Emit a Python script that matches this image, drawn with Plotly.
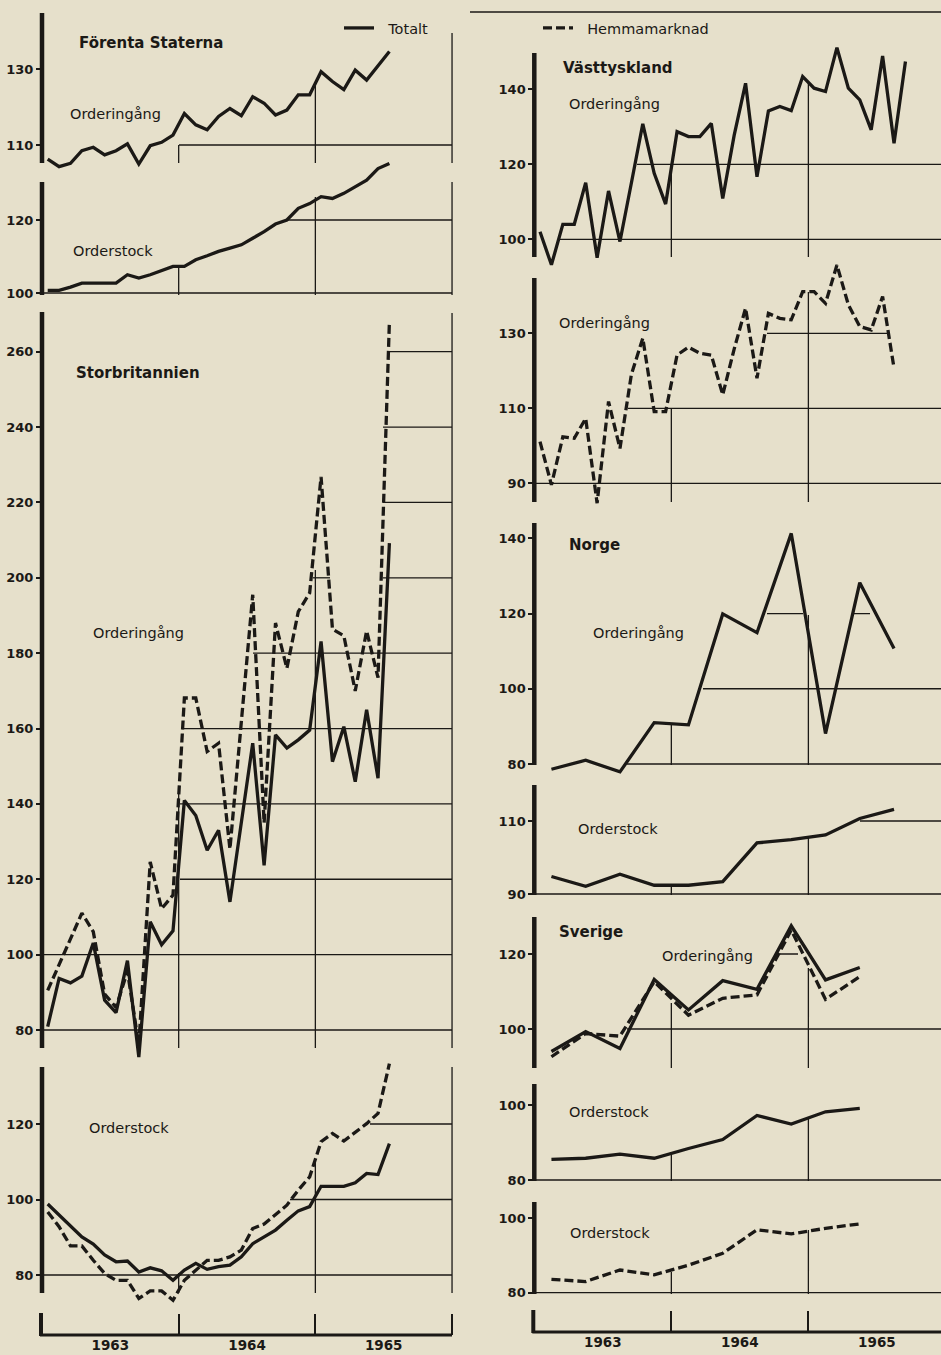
import numpy as np
import plotly.graph_objects as go

# ---------------- data ----------------
year_labels = ["1963", "1964", "1965"]

# Förenta Staterna, monthly Jan 1963 - Jul 1965
us_intake_total = [106.3, 104.3, 105.2, 108.5, 109.4, 107.4, 108.5, 110.3, 105.0, 109.8, 110.7, 112.6,
                   118.3, 115.3, 114.0, 117.5, 119.6, 117.7, 122.7, 121.0, 117.9, 119.2, 123.2, 123.2,
                   129.3, 126.7, 124.6, 129.7, 127.1, 131.0, 134.6]
us_stock_total = [100.7, 100.7, 101.6, 102.7, 102.7, 102.7, 102.7, 105.0, 104.1, 105.0, 106.2, 107.3,
                  107.3, 109.1, 110.2, 111.4, 112.3, 113.2, 115.0, 116.8, 118.9, 120.0, 123.2, 124.5,
                  126.4, 125.9, 127.3, 129.1, 130.9, 134.1, 135.5]

# Storbritannien, monthly Jan 1963 - Jul 1965
uk_intake_total = [80.9, 93.7, 92.5, 94.3, 103.1, 87.9, 84.6, 98.4, 72.8, 108.7, 102.6, 106.3,
                   140.9, 136.9, 127.7, 133.0, 114.0, 135.0, 156.1, 123.7, 158.3, 154.8, 157.0, 159.6,
                   183.1, 151.2, 160.5, 145.9, 165.0, 146.8, 209.2]
uk_intake_home = [90.5, 97.3, 104.2, 111.0, 106.1, 89.5, 86.0, 95.6, 76.0, 124.6, 112.2, 115.8,
                  168.1, 168.1, 153.9, 156.1, 128.0, 162.0, 195.5, 135.0, 188.0, 176.0, 191.0, 196.0,
                  226.8, 186.4, 184.6, 170.0, 185.9, 173.5, 268.0]
uk_stock_total = [98.8, 95.9, 92.8, 90.1, 88.2, 85.3, 83.5, 83.7, 80.8, 81.9, 81.1, 78.6,
                  81.3, 83.1, 81.5, 82.2, 82.6, 84.8, 88.3, 90.1, 91.9, 94.5, 97.0, 98.1,
                  103.5, 103.5, 103.5, 104.4, 106.9, 106.6, 114.8]
uk_stock_home = [96.7, 92.8, 87.7, 87.7, 83.9, 80.4, 78.6, 78.6, 73.8, 75.8, 75.8, 73.3,
                 78.6, 81.3, 83.9, 83.9, 84.8, 86.6, 92.3, 93.5, 95.9, 98.5, 102.5, 106.0,
                 115.3, 117.5, 115.5, 117.9, 120.1, 122.8, 136.0]

# Västtyskland, monthly
wg_intake_total = [102.0, 93.2, 104.0, 104.0, 115.1, 95.1, 112.9, 99.4, 115.0, 130.8, 117.6, 109.4,
                   128.7, 127.4, 127.4, 130.9, 110.9, 127.7, 141.6, 116.7, 134.2, 135.4, 134.3, 143.4,
                   140.3, 139.4, 151.1, 140.3, 137.2, 129.2, 148.9, 125.6, 147.4]
wg_intake_home = [101.1, 89.6, 102.4, 102.0, 107.3, 84.7, 111.8, 99.3, 119.0, 128.7, 109.1, 109.1,
                  124.2, 126.3, 124.7, 124.2, 113.6, 125.8, 136.7, 118.0, 135.3, 134.0, 133.6, 141.1,
                  141.1, 138.0, 148.2, 137.6, 131.8, 130.9, 139.8, 120.7]

# Norge, quarterly
no_intake_total = [78.6, 81.0, 77.9, 91.0, 90.4, 119.9, 114.9, 141.3, 88.1, 128.2, 110.7]
no_stock_total = [94.8, 92.1, 95.4, 92.4, 92.4, 93.4, 104.0, 104.9, 106.2, 110.7, 113.2]

# Sverige, quarterly
se_intake_total = [94.0, 99.3, 94.8, 113.2, 105.1, 112.9, 110.6, 127.5, 113.1, 116.4]
se_intake_home = [92.6, 98.8, 98.1, 112.6, 103.7, 108.2, 109.1, 126.4, 107.9, 114.0]
se_stock_total = [85.5, 85.8, 86.9, 85.8, 88.4, 90.8, 97.2, 94.9, 98.2, 99.1]
se_stock_home = [83.6, 83.0, 86.1, 84.8, 87.4, 90.6, 96.9, 95.8, 97.3, 98.5]

# ---------------- style / layout ----------------
INK = "#1b1916"
PAPER = "#e6e0cb"
W, H = 941, 1355
FONT = "DejaVu Sans"
LINE_W = 3.3
DASH = "9px,4px"

COLS = {
    "L": dict(px0=42.0, ppm=11.39, dom_right=456.0, end=452.0),
    "R": dict(px0=534.3, ppm=11.42, dom_right=941.0, end=941.0),
}


def col_m(col, px):
    c = COLS[col]
    return (px - c["px0"]) / c["ppm"]


def x_positions(freq, n):
    return np.arange(n) + 0.5 if freq == "M" else np.arange(n) * 3 + 1.5


S = lambda y, freq="M", dash=False, legend=None: dict(y=y, freq=freq, dash=dash, legend=legend)

panels = [
    dict(col="L", ref=((130, 69.0), (110, 145.0)), spine=(13, 163), ticks=[110, 130],
         series=[S(us_intake_total, legend="Totalt")],
         h=[(110, 179, 452)], v=[(12, 145), (24, 85), (36, 33)]),
    dict(col="L", ref=((120, 220.0), (100, 293.0)), spine=(182, 295), ticks=[100, 120],
         series=[S(us_stock_total)],
         h=[(120, 287, 452), (100, 42, 452)], v=[(12, 267), (24, 197), (36, 182)]),
    dict(col="L", ref=((260, 351.7), (80, 1030.0)), spine=(312, 1048), ticks=list(range(80, 261, 20)),
         series=[S(uk_intake_total), S(uk_intake_home, dash=True, legend="Hemmamarknad")],
         h=[(260, 390, 452), (240, 383, 452), (220, 383, 452), (200, 313, 330), (200, 383, 452),
            (180, 253, 452), (160, 182, 452), (140, 180, 452), (120, 180, 452), (100, 42, 452), (80, 42, 452)],
         v=[(12, 790), (24, 570), (36, 313)]),
    dict(col="L", ref=((120, 1124.0), (80, 1275.0)), spine=(1067, 1293), ticks=[80, 100, 120],
         series=[S(uk_stock_total), S(uk_stock_home, dash=True)],
         h=[(120, 370, 452), (100, 290, 452), (80, 42, 452)], v=[(12, 1273), (24, 1162), (36, 1067)],
         time_axis=1335),
    dict(col="R", ref=((140, 89.3), (100, 239.3)), spine=(53, 257), ticks=[100, 120, 140],
         series=[S(wg_intake_total)],
         h=[(120, 637, 941), (100, 558, 941)], v=[(12, 164), (24, 83)]),
    dict(col="R", ref=((130, 333.3), (90, 483.3)), spine=(278, 502), ticks=[90, 110, 130],
         series=[S(wg_intake_home, dash=True)],
         h=[(130, 767, 887), (110, 628, 941), (90, 534, 941)], v=[(12, 408), (24, 292)]),
    dict(col="R", ref=((140, 538.3), (80, 764.0)), spine=(523, 765), ticks=[80, 100, 120, 140],
         series=[S(no_intake_total, freq="Q")],
         h=[(120, 767, 803), (120, 853, 870), (100, 703, 941), (80, 627, 941)], v=[(12, 725), (24, 615)]),
    dict(col="R", ref=((110, 821.0), (90, 894.0)), spine=(785, 895), ticks=[90, 110],
         series=[S(no_stock_total, freq="Q")],
         h=[(110, 860, 941), (90, 534, 941)], v=[(12, 886), (24, 838)]),
    dict(col="R", ref=((120, 954.0), (100, 1029.0)), spine=(917, 1068), ticks=[100, 120],
         series=[S(se_intake_total, freq="Q"), S(se_intake_home, freq="Q", dash=True)],
         h=[(120, 780, 798), (100, 627, 941)], v=[(12, 1003), (24, 968)]),
    dict(col="R", ref=((100, 1105.0), (80, 1180.0)), spine=(1084, 1181), ticks=[80, 100],
         series=[S(se_stock_total, freq="Q")],
         h=[(80, 534, 941)], v=[(12, 1155), (24, 1118)]),
    dict(col="R", ref=((100, 1218.3), (80, 1292.7)), spine=(1202, 1294), ticks=[80, 100],
         series=[S(se_stock_home, freq="Q", dash=True)],
         h=[(80, 534, 941)], v=[(12, 1272), (24, 1230)],
         time_axis=1332),
]

labels = [
    ("Förenta Staterna", 77, 43, True),
    ("Orderingång", 68, 114, False),
    ("Orderstock", 71, 251, False),
    ("Storbritannien", 74, 373, True),
    ("Orderingång", 91, 633, False),
    ("Orderstock", 87, 1128, False),
    ("Västtyskland", 561, 68, True),
    ("Orderingång", 567, 104, False),
    ("Orderingång", 557, 323, False),
    ("Norge", 567, 545, True),
    ("Orderingång", 591, 633, False),
    ("Orderstock", 576, 829, False),
    ("Sverige", 557, 932, True),
    ("Orderingång", 660, 956, False),
    ("Orderstock", 567, 1112, False),
    ("Orderstock", 568, 1233, False),
]

fig = go.Figure()
shapes = []
layout_axes = {}


def pline(x0, y0, x1, y1, width):
    return dict(type="line", xref="paper", yref="paper", x0=x0 / W, x1=x1 / W,
                y0=1 - y0 / H, y1=1 - y1 / H, line=dict(color=INK, width=width), layer="above")


for k, p in enumerate(panels, start=1):
    sfx = "" if k == 1 else str(k)
    (va, pa), (vb, pb) = p["ref"]
    slope = (vb - va) / (pb - pa)
    v_at = lambda px, va=va, pa=pa, slope=slope: va + (px - pa) * slope
    px_at = lambda v, va=va, pa=pa, slope=slope: pa + (v - va) / slope
    c = COLS[p["col"]]

    allv = [v for s in p["series"] for v in s["y"]]
    top = min(p["spine"][0], px_at(max(allv))) - 8
    bot = max(p["spine"][1], px_at(min(allv))) + 8
    xr = [0, col_m(p["col"], c["dom_right"])]

    xa = dict(domain=[c["px0"] / W, c["dom_right"] / W], range=xr, visible=False,
              anchor="y" + sfx, fixedrange=True, showgrid=False, zeroline=False)
    if "time_axis" in p:
        ty = p["time_axis"]
        xa.update(visible=True, anchor="free", position=1 - ty / H, showline=False,
                  tickmode="array", tickvals=[6, 18, 30], ticktext=year_labels,
                  ticks="inside", ticklen=0, tickcolor=INK,
                  tickfont=dict(family=FONT, size=13.5, color=INK, weight="bold"),
                  minor=dict(tickmode="array", tickvals=[0, 12, 24, 36], ticks="inside",
                             ticklen=21, tickwidth=2, tickcolor=INK, showgrid=False))
        shapes.append(pline(c["px0"] - 2, ty, c["end"], ty, 3))
        shapes.append(pline(c["px0"] - 1, ty - 22, c["px0"] - 1, ty + 1, 4))
    layout_axes["xaxis" + sfx] = xa
    layout_axes["yaxis" + sfx] = dict(
        domain=[1 - bot / H, 1 - top / H], range=[v_at(bot), v_at(top)], anchor="x" + sfx,
        tickmode="array", tickvals=p["ticks"], ticks="outside", ticklen=5, tickwidth=2,
        tickcolor=INK, showgrid=False, zeroline=False, showline=False, fixedrange=True,
        tickfont=dict(family=FONT, size=13, color=INK, weight="bold"))

    # thick left spine
    shapes.append(pline(c["px0"], p["spine"][0], c["px0"], p["spine"][1], 4.5))

    # partial grid lines (data coordinates)
    for (val, x0px, x1px) in p["h"]:
        shapes.append(dict(type="line", xref="x" + sfx, yref="y" + sfx,
                           x0=max(col_m(p["col"], x0px), 0), x1=col_m(p["col"], x1px),
                           y0=val, y1=val, line=dict(color=INK, width=1.3), layer="below"))
    for (mon, top_px) in p["v"]:
        shapes.append(dict(type="line", xref="x" + sfx, yref="y" + sfx,
                           x0=mon, x1=mon, y0=v_at(p["spine"][1]), y1=v_at(top_px),
                           line=dict(color=INK, width=1.3), layer="below"))

    for s in p["series"]:
        fig.add_trace(go.Scatter(
            x=x_positions(s["freq"], len(s["y"])), y=s["y"], mode="lines",
            line=dict(color=INK, width=LINE_W, dash=DASH if s["dash"] else "solid"),
            xaxis="x" + sfx, yaxis="y" + sfx, hoverinfo="skip",
            name=("\u00a0\u00a0" + s["legend"]) if s["legend"] else "",
            showlegend=bool(s["legend"]),
            legend="legend2" if s["dash"] else "legend"))

# page rule above the right column
shapes.append(pline(470, 12, 941, 12, 1.6))

annotations = [
    dict(text=t, x=xp / W, y=1 - yp / H, xref="paper", yref="paper", xanchor="left",
         yanchor="middle", showarrow=False,
         font=dict(family=FONT, size=15 if b else 14.5, color=INK, weight="bold" if b else "normal"))
    for (t, xp, yp, b) in labels
]

legend_common = dict(xanchor="left", yanchor="middle", bgcolor="rgba(0,0,0,0)", borderwidth=0,
                     font=dict(family=FONT, size=14.5, color=INK), itemwidth=30)

fig.update_layout(
    width=W, height=H, autosize=False,
    margin=dict(l=0, r=0, t=0, b=0, pad=0),
    paper_bgcolor=PAPER, plot_bgcolor="rgba(0,0,0,0)",
    shapes=shapes, annotations=annotations,
    legend=dict(x=339 / W, y=1 - 28 / H, **legend_common),
    legend2=dict(x=538 / W, y=1 - 28 / H, **legend_common),
    font=dict(family=FONT, color=INK),
    **layout_axes,
)

fig.write_html("out.html", config={"displayModeBar": False, "staticPlot": True},
               post_script="document.body.style.margin='0';")
